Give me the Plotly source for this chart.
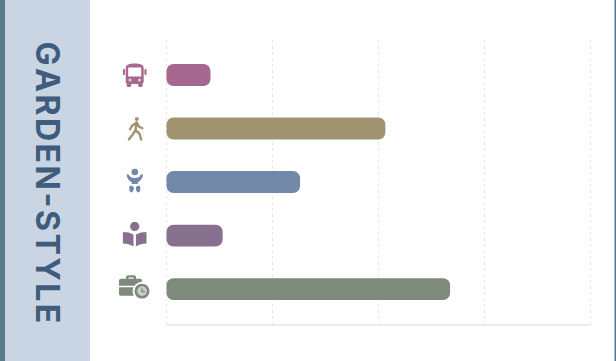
import base64
import plotly.graph_objects as go

# Share of each travel mode, top to bottom
modes = ["Bus", "Walking", "Child care", "Study", "Work"]
values = [8.3, 41.3, 25.2, 10.6, 53.5]
colors = ["#a6688f", "#a09370", "#7188a8", "#88708f", "#7e8a7c"]
ticks = [0, 20, 40, 60, 80]
title = "GARDEN-STYLE"

W, H = 616, 361
L, R, T, B = 164, 24, 40, 36
plot_w = W - L - R
plot_h = H - T - B
ROW_PX = 53.5


def paper_x(px):
    return (px - L) / plot_w


# Pictograms as small vector images: drawing, size and centre in pixels
icons = {
    "Bus": dict(w=24, h=24, cx=134.7, cy=75, svg=(
        '<path fill-rule="evenodd" d="M3 5C3 1.500 7 .5 12 .5S21 1.500 21 5V18.500C21 19.500 20.500 20 20 20.300V22.500'
        'C20 23.300 19.500 24 18.500 24H17C16 24 15.500 23.300 15.500 22.500V21H8.500V22.500C8.500 23.300 8 24 7 24H5.500'
        'C4.500 24 4 23.300 4 22.500V20.300C3.500 20 3 19.500 3 18.500zM5.500 4.500V13.500H18.500V4.500z"/>'
        '<rect x="0" y="6" width="2.300" height="6" rx="1"/><rect x="21.700" y="6" width="2.300" height="6" rx="1"/>'
        '<circle cx="7.300" cy="17" r="1.500" fill="#e3c8da"/><circle cx="16.700" cy="17" r="1.500" fill="#e3c8da"/>')),
    "Walking": dict(w=16, h=24, cx=135.5, cy=128.7, svg=(
        '<circle cx="9.300" cy="2.200" r="2"/>'
        '<g fill="none" stroke="currentColor" stroke-width="2.400" stroke-linejoin="round" stroke-linecap="round">'
        '<path d="M9 6L8 13.500L5 18L1.300 22.800"/><path d="M8 13.500L12 17L13.700 22.800"/>'
        '<path d="M9 6L4.500 9L2.500 12.500"/><path d="M9 6L11.700 10L15 11.500"/></g>')),
    "Child care": dict(w=17, h=25, cx=134.8, cy=180.5, svg=(
        '<circle cx="8.500" cy="4" r="3.300"/>'
        '<path d="M.3 6.500C1.500 5.800 2.300 6.300 3 7.500C4 9.300 6 10 8.500 10S13 9.300 14 7.500C14.700 6.300 15.500 5.800 16.700 6.500'
        'C16.500 10 14.300 13 11.500 14.500V16H5.500V14.500C2.700 13 .5 10 .3 6.500z"/>'
        '<path d="M3.500 18C5.300 17.300 7.300 18.300 7.500 20C7.600 22 6.300 24.500 5 24.500C3.300 24.300 2.300 20 3.500 18z"/>'
        '<path d="M13.500 18C11.700 17.300 9.700 18.300 9.500 20C9.400 22 10.700 24.500 12 24.500C13.700 24.300 14.700 20 13.500 18z"/>')),
    "Study": dict(w=24, h=25, cx=134.7, cy=234, svg=(
        '<circle cx="12" cy="4.800" r="4.600"/>'
        '<path d="M0 10.500C4 10.500 8 11.300 10.800 13V25C8 23 4 22 0 22z"/>'
        '<path d="M24 10.500C20 10.500 16 11.300 13.200 13V25C16 23 20 22 24 22z"/>')),
    "Work": dict(w=31, h=24, cx=134.5, cy=286.5, svg=(
        '<path fill-rule="evenodd" d="M7 4V2.500C7 1.300 8 .5 9 .5H15C16 .5 17 1.300 17 2.500V4H21C22.300 4 23 4.800 23 6V11H0V6'
        'C0 4.800 .8 4 2 4zM9.500 4H14.500V2.800H9.500z"/><path d="M0 12.500H23V21H2C.8 21 0 20.200 0 19z"/>'
        '<circle cx="23" cy="16.500" r="9.300" fill="#ffffff"/><circle cx="23" cy="16.500" r="7.500"/>'
        '<circle cx="23" cy="16.500" r="4.800" fill="#c9ceca"/>'
        '<path d="M23 13.500V17H26" fill="none" stroke="currentColor" stroke-width="1.300"/>')),
}


def icon_uri(spec, color):
    svg = (f'<svg xmlns="http://www.w3.org/2000/svg" width="{spec["w"]}" height="{spec["h"]}" '
           f'viewBox="0 0 {spec["w"]} {spec["h"]}" fill="{color}" color="{color}">{spec["svg"]}</svg>')
    return "data:image/svg+xml;base64," + base64.b64encode(svg.encode()).decode()


# An explicit zero base lets the corner radius apply to both ends of each bar
fig = go.Figure(go.Bar(
    x=values,
    y=modes,
    base=[0] * len(values),
    orientation="h",
    width=0.41,
    marker=dict(color=colors, cornerradius=7, line_width=0),
    hoverinfo="skip",
))

images = []
for i, (name, color) in enumerate(zip(modes, colors)):
    spec = icons[name]
    row_centre_px = 75 + i * ROW_PX
    images.append(dict(
        source=icon_uri(spec, color),
        xref="paper",
        yref="y",
        x=paper_x(spec["cx"]),
        y=i + (spec["cy"] - row_centre_px) / ROW_PX,
        sizex=spec["w"] / plot_w,
        sizey=spec["h"] / ROW_PX,
        xanchor="center",
        yanchor="middle",
        sizing="stretch",
        layer="above",
    ))

fig.update_layout(
    width=W,
    height=H,
    autosize=False,
    margin=dict(l=L, r=R, t=T, b=B),
    paper_bgcolor="#ffffff",
    plot_bgcolor="#ffffff",
    showlegend=False,
    images=images,
    shapes=[
        dict(type="rect", xref="paper", yref="paper", layer="below",
             x0=paper_x(0), x1=paper_x(90), y0=-0.2, y1=1.2,
             fillcolor="#c9d5e2", line_width=0),
        dict(type="rect", xref="paper", yref="paper", layer="below",
             x0=paper_x(0), x1=paper_x(5), y0=-0.2, y1=1.2,
             fillcolor="#587a8c", line_width=0),
        dict(type="rect", xref="paper", yref="paper", layer="below",
             x0=paper_x(614.5), x1=paper_x(617), y0=-0.2, y1=1.2,
             fillcolor="#587a8c", line_width=0),
        dict(type="line", xref="x", yref="paper", layer="below",
             x0=ticks[0], x1=ticks[-1], y0=0, y1=0,
             line=dict(color="#d9d9e2", width=1)),
    ],
    annotations=[dict(
        text="<b>" + "\u200a".join(title) + "</b>",
        xref="paper",
        yref="paper",
        x=paper_x(47.5),
        y=(H - B - 182) / plot_h,
        xanchor="center",
        yanchor="middle",
        textangle=90,
        showarrow=False,
        font=dict(family="Inter", size=32, color="#3f5c7c"),
    )],
    xaxis=dict(
        range=[-0.47, 80.28],
        tickvals=ticks,
        showticklabels=False,
        ticks="",
        showgrid=True,
        gridcolor="#e8e8e8",
        griddash="dot",
        gridwidth=1,
        zeroline=False,
        showline=False,
        fixedrange=True,
    ),
    yaxis=dict(
        type="category",
        categoryorder="array",
        categoryarray=modes,
        range=[4.67, -0.654],
        showticklabels=False,
        ticks="",
        showgrid=False,
        zeroline=False,
        showline=False,
        fixedrange=True,
    ),
)

fig.write_html("out.html", config={"displayModeBar": False})
